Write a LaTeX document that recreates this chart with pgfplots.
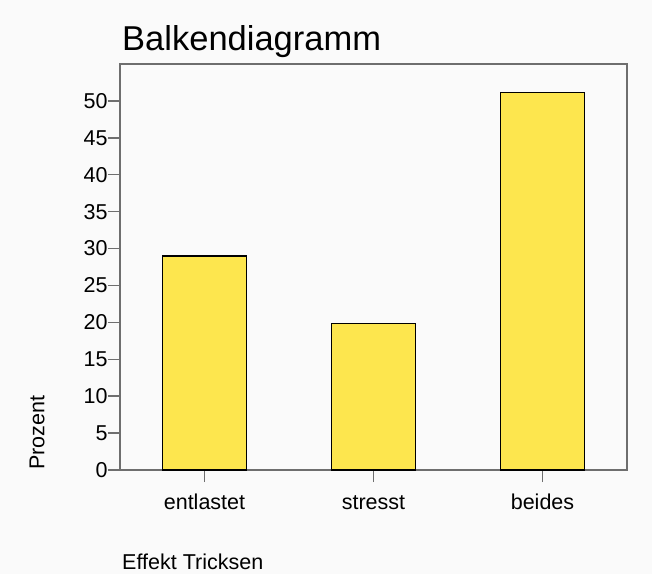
\documentclass[border=0pt]{standalone}
\usepackage{fontspec}
\setmainfont{Liberation Sans}
\usepackage{pgfplots}
\pgfplotsset{compat=1.18}
\definecolor{barfill}{RGB}{253,230,78}
\definecolor{framegray}{RGB}{110,110,110}
\definecolor{bg}{RGB}{250,250,250}
\begin{document}
\begin{tikzpicture}
\path[use as bounding box, fill=bg] (0,0) rectangle (652pt,574pt);
\begin{axis}[
  at={(120pt,104pt)}, anchor=south west,
  scale only axis, width=507pt, height=406pt,
  xmin=-0.5, xmax=2.5, ymin=0, ymax=55,
  xtick={0,1,2}, xticklabels={entlastet,stresst,beides},
  ytick={0,5,...,50},
  tick align=outside, major tick length=12pt,
  tick style={framegray, line width=1.4pt},
  xtick pos=bottom, ytick pos=left,
  axis line style={framegray, line width=1.8pt},
  /pgf/number format/assume math mode=true,
  ticklabel style={font=\fontsize{21.5}{26}\selectfont, text=black},
  yticklabel style={xshift=3pt},
  xticklabel style={yshift=-8pt, text height=16pt, text depth=0pt},
  title={Balkendiagramm},
  title style={at={(axis description cs:0.004,1.040)}, anchor=west, inner sep=0pt, font=\fontsize{34.5}{40}\selectfont},
  xlabel={Effekt Tricksen},
  xlabel style={at={(axis description cs:0.004,-0.2266)}, anchor=west, inner sep=0pt, font=\fontsize{21.5}{26}\selectfont},
  ylabel={Prozent},
  ylabel style={at={(axis description cs:-0.1637,0)}, anchor=west, inner sep=0pt, rotate=0, font=\fontsize{21.5}{26}\selectfont},
]
\addplot[ybar, bar width=0.5, fill=barfill, draw=black, line width=1.3pt] coordinates {(0,29.0) (1,19.8) (2,51.1)};
\end{axis}
\end{tikzpicture}
\end{document}
